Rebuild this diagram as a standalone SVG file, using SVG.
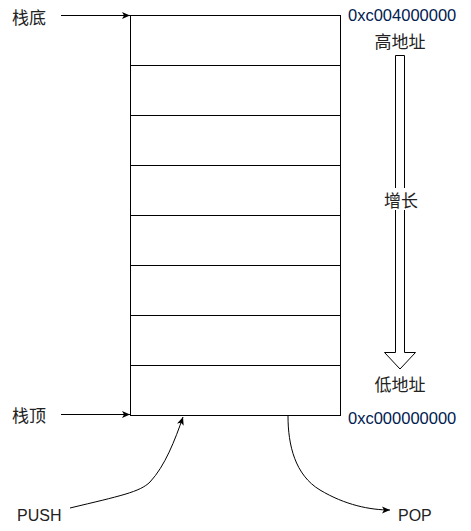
<svg xmlns="http://www.w3.org/2000/svg" width="471" height="531" viewBox="0 0 471 531">
<style>
.cell{fill:#fff;stroke:#000;stroke-width:1}
.t{font-family:"Liberation Sans","Noto Sans CJK SC",sans-serif;font-size:16px;fill:#222}
.c{font-family:"Noto Sans CJK SC",sans-serif;font-size:17px;fill:#222}
.hex{font-family:"Liberation Sans",sans-serif;font-size:16.5px;fill:#002050}
.edge{fill:none;stroke:#000;stroke-width:1}
</style>
<defs>
<marker id="ah" markerWidth="10" markerHeight="10" refX="9" refY="5" orient="auto" markerUnits="userSpaceOnUse">
<path d="M1,1.5 L9,5 L1,8.5 L3,5 Z" fill="#000"/>
</marker>
</defs>
<rect width="471" height="531" fill="#fff"/>
<g id="stack">
<rect class="cell" x="130.5" y="15.5" width="210" height="50"/>
<rect class="cell" x="130.5" y="65.5" width="210" height="50"/>
<rect class="cell" x="130.5" y="115.5" width="210" height="50"/>
<rect class="cell" x="130.5" y="165.5" width="210" height="50"/>
<rect class="cell" x="130.5" y="215.5" width="210" height="50"/>
<rect class="cell" x="130.5" y="265.5" width="210" height="50"/>
<rect class="cell" x="130.5" y="315.5" width="210" height="50"/>
<rect class="cell" x="130.5" y="365.5" width="210" height="50"/>
</g>
<g id="growth">
<path d="M395.5,55.5 L404.5,55.5 L404.5,352.5 L415.5,352.5 L400,369 L384.5,352.5 L395.5,352.5 Z" fill="#fff" stroke="#000" stroke-width="1"/>
<rect x="384" y="188" width="34" height="22" fill="#fff"/>
<text class="c" x="401" y="199" text-anchor="middle" dominant-baseline="central">增长</text>
</g>
<g id="labels">
<text class="c" x="12" y="16" dominant-baseline="central">栈底</text>
<text class="c" x="12" y="414" dominant-baseline="central">栈顶</text>
<text class="c" x="400" y="40" text-anchor="middle" dominant-baseline="central">高地址</text>
<text class="c" x="400" y="383" text-anchor="middle" dominant-baseline="central">低地址</text>
<text class="hex" x="348" y="20.5">0xc004000000</text>
<text class="hex" x="348" y="424">0xc000000000</text>
<text class="t" x="17" y="521">PUSH</text>
<text class="t" x="398" y="521">POP</text>
</g>
<g id="connectors">
<path class="edge" d="M61,15.5 L130,15.5" marker-end="url(#ah)"/>
<path class="edge" d="M61,414.5 L130,414.5" marker-end="url(#ah)"/>
<path class="edge" d="M70,508 C120,496 140,492 150,482 C165,466 175,440 183,417" marker-end="url(#ah)"/>
<path class="edge" d="M288,416 C288,445 295,475 320,490 C345,505 370,510 390,510" marker-end="url(#ah)"/>
</g>
</svg>
